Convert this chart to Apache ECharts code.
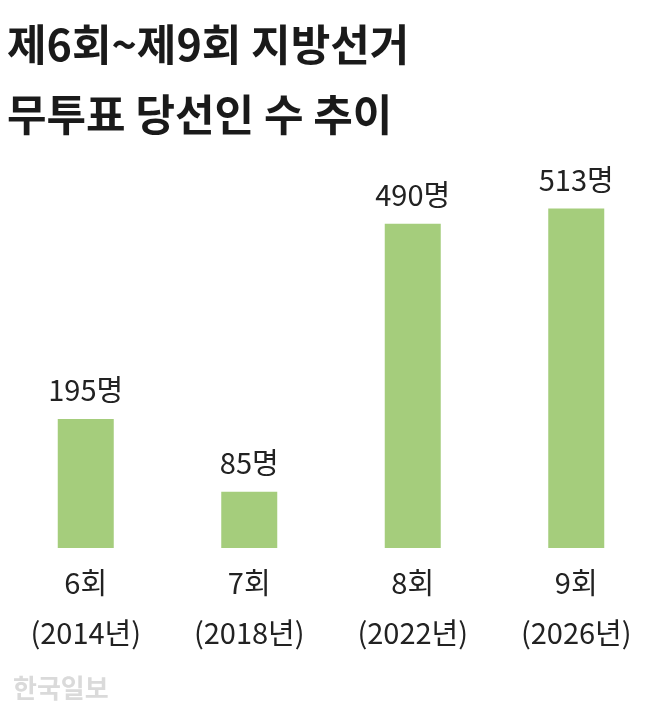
<!DOCTYPE html>
<html><head><meta charset="utf-8">
<script src="https://cdn.jsdelivr.net/npm/echarts@6/dist/echarts.min.js"></script>
<style>html,body{margin:0;padding:0;background:#fff}#c{width:658px;height:712px}</style>
</head><body><div id="c"></div>
<script>
const categories = ['6회\n(2014년)', '7회\n(2018년)', '8회\n(2022년)', '9회\n(2026년)'];
const values = [195, 85, 490, 513];
const font = '"Noto Sans CJK KR", "Noto Sans", sans-serif';
const chart = echarts.init(document.getElementById('c'));
chart.setOption({
  animation: false,
  title: [
    {text: '제6회~제9회 지방선거', left: 2, top: 18, textStyle: {fontFamily: font, fontSize: 43, fontWeight: 'bold', color: '#1a1a1a'}},
    {text: '무투표 당선인 수 추이', left: 2, top: 88, textStyle: {fontFamily: font, fontSize: 43, fontWeight: 'bold', color: '#1a1a1a'}},
    {text: '한국일보', left: 8, top: 670, textStyle: {fontFamily: font, fontSize: 26, fontWeight: 'bold', color: '#dadada'}}
  ],
  grid: {left: 4, right: 0, top: 151, bottom: 164},
  xAxis: {type: 'category', data: categories, axisLine: {show: false}, axisTick: {show: false},
    axisLabel: {margin: 10, fontFamily: font, fontSize: 29, color: '#222', lineHeight: 50, verticalAlign: 'top'}},
  yAxis: {type: 'value', min: 0, max: 600, show: false, splitLine: {show: false}},
  series: [{type: 'bar', data: values, barWidth: 56, itemStyle: {color: '#a5cd7c'},
    label: {show: true, position: 'top', distance: 14, formatter: p => p.value + '명', fontFamily: font, fontSize: 29, color: '#222'}}]
});
</script></body></html>
